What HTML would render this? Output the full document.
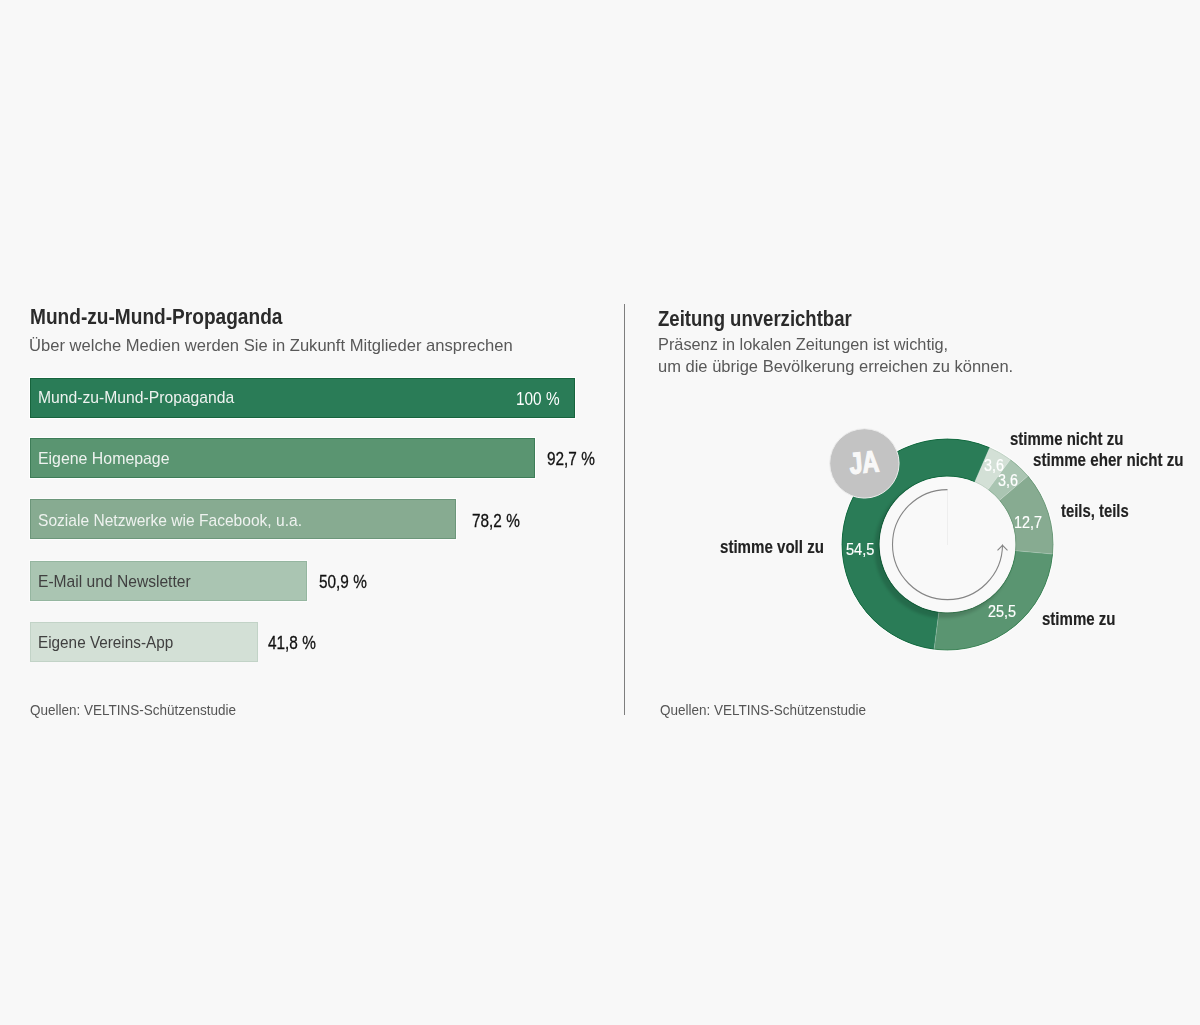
<!DOCTYPE html>
<html><head><meta charset="utf-8">
<style>
html,body{margin:0;padding:0;}
body{width:1200px;height:1025px;background:#f8f8f8;position:relative;overflow:hidden;font-family:"Liberation Sans",sans-serif;}
.t{position:absolute;white-space:nowrap;line-height:1;transform-origin:0 0;}
.b{font-weight:bold;}
.bar{position:absolute;left:30px;height:40px;}
.h{font-size:22px;font-weight:bold;color:#2b2b2b;}
.sub{font-size:16.6px;color:#585858;}
.bl{font-size:17px;transform:scaleX(0.917);}
.pc{font-size:18.5px;color:#111;-webkit-text-stroke:0.3px #111;}
.lab{font-size:18px;font-weight:bold;color:#222;-webkit-text-stroke:0.15px #222;}
.num{font-size:16.5px;color:#fff;-webkit-text-stroke:0.2px #fff;}
.src{font-size:15.5px;color:#555;}
</style></head><body>

<!-- LEFT -->
<div class="t h" style="left:29.5px;top:306.2px;font-size:22px;transform:scaleX(0.868)">Mund-zu-Mund-Propaganda</div>
<div class="t sub" style="left:29.2px;top:337.6px;transform:scaleX(0.999)">Über welche Medien werden Sie in Zukunft Mitglieder ansprechen</div>

<div class="bar" style="top:378px;width:545px;background:#2a7c57;box-shadow:inset 0 0 0 1px rgba(0,70,30,0.45),0 0 0 1px #fff"></div>
<div class="bar" style="top:438px;width:505px;background:#5a9571;box-shadow:inset 0 0 0 1px rgba(0,70,30,0.3),0 0 0 1px #fff"></div>
<div class="bar" style="top:499px;width:426px;background:#87ab91;box-shadow:inset 0 0 0 1px rgba(0,70,30,0.2),0 0 0 1px #fdfdfd"></div>
<div class="bar" style="top:561px;width:277px;background:#aac5b2;box-shadow:inset 0 0 0 1px rgba(0,70,30,0.12),0 0 0 1px #fcfcfc"></div>
<div class="bar" style="top:622px;width:228px;background:#d3e0d6;box-shadow:inset 0 0 0 1px rgba(0,70,30,0.08)"></div>

<div class="t bl" style="left:38px;top:389px;color:#eef2ef;transform:scaleX(0.923)">Mund-zu-Mund-Propaganda</div>
<div class="t bl" style="left:38px;top:450px;color:#eef2ef;transform:scaleX(0.934)">Eigene Homepage</div>
<div class="t bl" style="left:38px;top:512px;color:#eef2ef;transform:scaleX(0.916)">Soziale Netzwerke wie Facebook, u.a.</div>
<div class="t bl" style="left:38px;top:573px;color:#404040;transform:scaleX(0.918)">E-Mail und Newsletter</div>
<div class="t bl" style="left:38px;top:634px;color:#404040;transform:scaleX(0.90)">Eigene Vereins-App</div>

<div class="t pc" style="left:516px;top:389.5px;color:#fff;-webkit-text-stroke:0;transform:scaleX(0.83)">100 %</div>
<div class="t pc" style="left:546.5px;top:450px;transform:scaleX(0.83)">92,7 %</div>
<div class="t pc" style="left:471.5px;top:512px;transform:scaleX(0.83)">78,2 %</div>
<div class="t pc" style="left:318.5px;top:573px;transform:scaleX(0.83)">50,9 %</div>
<div class="t pc" style="left:268px;top:634px;transform:scaleX(0.83)">41,8 %</div>

<div class="t src" style="left:30px;top:702px;transform:scaleX(0.871)">Quellen: VELTINS-Schützenstudie</div>

<!-- divider -->
<div style="position:absolute;left:624px;top:304px;width:1px;height:411px;background:#7e7e7e"></div>

<!-- RIGHT -->
<div class="t h" style="left:657.8px;top:308px;font-size:22px;transform:scaleX(0.843)">Zeitung unverzichtbar</div>
<div class="t sub" style="left:658px;top:336.6px;transform:scaleX(0.983)">Präsenz in lokalen Zeitungen ist wichtig,</div>
<div class="t sub" style="left:658px;top:358.6px;transform:scaleX(0.995)">um die übrige Bevölkerung erreichen zu können.</div>

<svg style="position:absolute;left:0;top:0" width="1200" height="1025" viewBox="0 0 1200 1025">
<defs>
<filter id="bl" x="-10%" y="-10%" width="120%" height="120%"><feGaussianBlur stdDeviation="1.6"/></filter>
</defs>
<g>
<path fill="#d3e0d6" d="M989.77 447.29A106 106 0 0 1 1010.55 459.29L987.95 489.84A68 68 0 0 0 974.61 482.14Z"/>
<path fill="#aac5b2" d="M1010.55 459.29A106 106 0 0 1 1028.22 475.80L999.28 500.43A68 68 0 0 0 987.95 489.84Z"/>
<path fill="#87ab91" d="M1028.22 475.80A106 106 0 0 1 1053.06 554.11L1015.22 550.66A68 68 0 0 0 999.28 500.43Z"/>
<path fill="#5a9571" d="M1053.06 554.11A106 106 0 0 1 934.03 649.64L938.86 611.95A68 68 0 0 0 1015.22 550.66Z"/>
<path fill="#2a7c57" d="M934.03 649.64A106 106 0 1 1 989.77 447.29L974.61 482.14A68 68 0 1 0 938.86 611.95Z"/>
</g>
<g fill="none" stroke-width="1">
<path d="M989.57 447.75A105.5 105.5 0 0 1 1010.25 459.69" stroke="#c2d4c7"/>
<path d="M974.81 481.68A68.5 68.5 0 0 1 988.25 489.44" stroke="#c2d4c7"/>
<path d="M1010.25 459.69A105.5 105.5 0 0 1 1027.84 476.12" stroke="#94b69e"/>
<path d="M988.25 489.44A68.5 68.5 0 0 1 999.67 500.10" stroke="#94b69e"/>
<path d="M1027.84 476.12A105.5 105.5 0 0 1 1052.57 554.06" stroke="#6e9b7b"/>
<path d="M999.67 500.10A68.5 68.5 0 0 1 1015.72 550.71" stroke="#6e9b7b"/>
<path d="M1052.57 554.06A105.5 105.5 0 0 1 934.09 649.14" stroke="#3e8558"/>
<path d="M1015.72 550.71A68.5 68.5 0 0 1 938.80 612.44" stroke="#3e8558"/>
<path d="M934.09 649.14A105.5 105.5 0 1 1 989.57 447.75" stroke="#146b41"/>
<path d="M938.80 612.44A68.5 68.5 0 1 1 974.81 481.68" stroke="#146b41"/>
</g>
<g stroke="#fff" stroke-opacity="0.3" stroke-width="0.7">
<path d="M974.61 482.14L989.77 447.29"/>
<path d="M987.95 489.84L1010.55 459.29"/>
<path d="M999.28 500.43L1028.22 475.80"/>
<path d="M1015.22 550.66L1053.06 554.11"/>
<path d="M938.86 611.95L934.03 649.64"/>
</g>
<circle cx="947.5" cy="544.5" r="106.5" fill="none" stroke="#fff" stroke-opacity="0.8" stroke-width="1"/>
<circle cx="944" cy="548.5" r="69.5" fill="#000" opacity="0.14" filter="url(#bl)"/>
<circle cx="947.5" cy="544.5" r="67.8" fill="#f9f9f9"/>
<line x1="947.5" y1="490" x2="947.5" y2="545" stroke="#eeeeee" stroke-width="1"/>
<path d="M947.5 489.6 A55 55 0 1 0 1002.5 544.6" fill="none" stroke="#858585" stroke-width="1.1"/>
<path d="M997.5 550.3 L1002.5 545.3 L1007.5 550.3" fill="none" stroke="#858585" stroke-width="1.1"/>
<circle cx="864.4" cy="463.4" r="34.7" fill="#c3c3c3" stroke="#eeeeee" stroke-width="1"/>
</svg>

<div class="t b" style="left:847.8px;top:449.3px;font-size:30px;color:#f8f8f8;-webkit-text-stroke:1.3px #f8f8f8;transform:rotate(-5deg) scaleX(0.775)">JA</div>

<div class="t num" style="left:846px;top:541px;transform:scaleX(0.885)">54,5</div>
<div class="t num" style="left:988px;top:603px;transform:scaleX(0.87)">25,5</div>
<div class="t num" style="left:1014.3px;top:513.7px;transform:scaleX(0.87)">12,7</div>
<div class="t num" style="left:983.7px;top:456.8px;transform:scaleX(0.87)">3,6</div>
<div class="t num" style="left:998px;top:472px;transform:scaleX(0.87)">3,6</div>

<div class="t lab" style="left:720px;top:537.8px;transform:scaleX(0.838)">stimme voll zu</div>
<div class="t lab" style="left:1010px;top:429.6px;transform:scaleX(0.833)">stimme nicht zu</div>
<div class="t lab" style="left:1033px;top:451.2px;transform:scaleX(0.841)">stimme eher nicht zu</div>
<div class="t lab" style="left:1061px;top:501.6px;transform:scaleX(0.825)">teils, teils</div>
<div class="t lab" style="left:1042px;top:609.8px;transform:scaleX(0.835)">stimme zu</div>

<div class="t src" style="left:660px;top:702px;transform:scaleX(0.871)">Quellen: VELTINS-Schützenstudie</div>

</body></html>
